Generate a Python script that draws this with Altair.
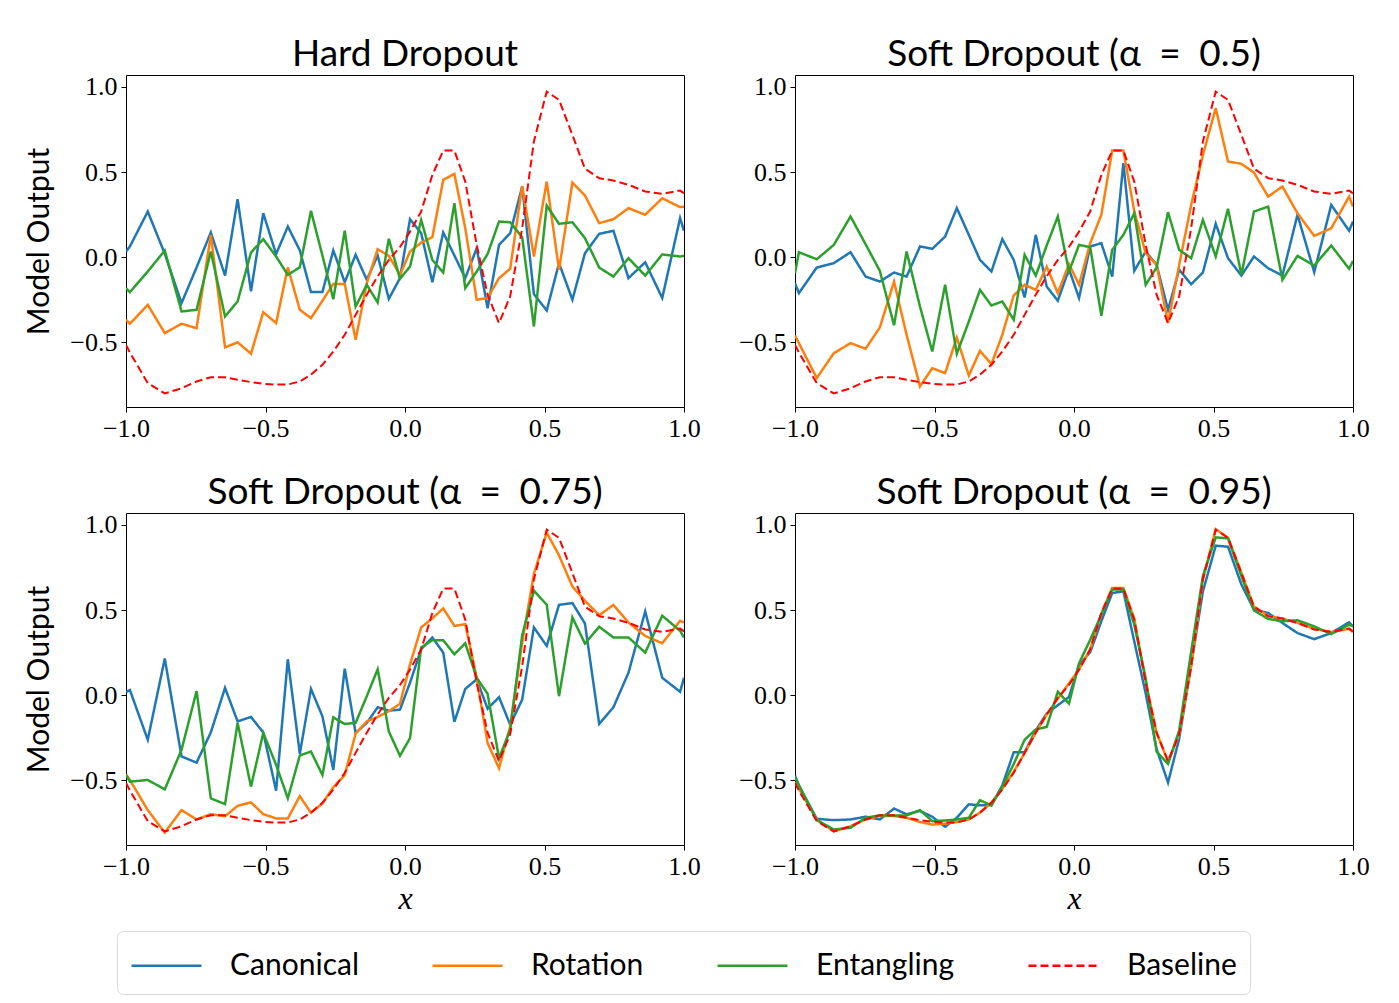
import altair as alt
import pandas as pd

X = [-1.0, -0.986, -0.922, -0.861, -0.801, -0.747, -0.696, -0.645, -0.600, -0.552,
     -0.508, -0.462, -0.420, -0.377, -0.337, -0.296, -0.257, -0.216, -0.177, -0.137,
     -0.098, -0.058, -0.018, 0.018, 0.058, 0.098, 0.137, 0.177, 0.216, 0.257,
     0.296, 0.337, 0.377, 0.420, 0.462, 0.508, 0.552, 0.600, 0.645, 0.696,
     0.747, 0.801, 0.861, 0.922, 0.986, 1.0]

BASELINE = [-0.515, -0.56, -0.74, -0.80, -0.77, -0.73, -0.705, -0.705, -0.72, -0.734,
            -0.744, -0.748, -0.748, -0.73, -0.69, -0.632, -0.554, -0.456, -0.339, -0.22,
            -0.113, -0.016, 0.06, 0.15, 0.268, 0.483, 0.626, 0.626, 0.444, 0.072,
            -0.22, -0.387, -0.23, 0.17, 0.68, 0.973, 0.924, 0.718, 0.52, 0.464,
            0.45, 0.425, 0.386, 0.372, 0.391, 0.375]

HARD_CANONICAL = [0.033, 0.063, 0.268, 0.02, -0.27, -0.06, 0.145, -0.108, 0.34, -0.20,
                  0.258, 0.018, 0.18, 0.04, -0.205, -0.205, 0.04, -0.147, 0.014, -0.133,
                  0.01, -0.245, -0.123, 0.223, 0.141, -0.147, 0.145, 0.01, -0.123, 0.053,
                  -0.30, 0.072, 0.141, 0.415, -0.217, -0.313, -0.035, -0.25, 0.023, 0.137,
                  0.155, -0.123, -0.03, -0.24, 0.229, 0.155]
HARD_ROTATION = [-0.368, -0.391, -0.28, -0.446, -0.391, -0.417, 0.131, -0.53, -0.50, -0.567,
                 -0.323, -0.387, -0.06, -0.309, -0.358, -0.256, -0.157, -0.157, -0.485, -0.153,
                 0.047, 0.008, -0.104, 0.033, 0.086, 0.117, 0.454, 0.489, 0.17, -0.25,
                 -0.24, -0.123, -0.068, 0.419, 0.004, 0.444, -0.074, 0.438, 0.362, 0.20,
                 0.223, 0.288, 0.249, 0.346, 0.294, 0.297]
HARD_ENTANGLING = [-0.182, -0.205, -0.084, 0.039, -0.319, -0.309, 0.033, -0.348, -0.26, 0.027,
                   0.106, 0.004, -0.104, -0.059, 0.272, 0.01, -0.247, 0.155, -0.29, -0.162,
                   -0.266, 0.108, -0.127, -0.055, 0.219, -0.016, -0.09, 0.317, -0.182, -0.084,
                   0.018, 0.209, 0.205, 0.117, -0.407, 0.303, 0.196, 0.205, 0.112, -0.061,
                   -0.114, -0.006, -0.108, 0.016, 0.004, 0.008]

S50_CANONICAL = [-0.153, -0.211, -0.061, -0.035, 0.029, -0.114, -0.143, -0.09, -0.114, 0.063,
                 0.049, 0.121, 0.288, 0.131, -0.016, -0.084, 0.106, -0.016, -0.237, 0.131,
                 -0.172, -0.256, -0.07, -0.24, 0.063, 0.082, -0.114, 0.552, -0.08, 0.033,
                 -0.045, -0.309, -0.074, -0.159, -0.09, 0.196, -0.006, -0.108, 0.004, -0.065,
                 -0.108, 0.249, -0.088, 0.307, 0.155, 0.209]
S50_ROTATION = [-0.46, -0.505, -0.71, -0.564, -0.505, -0.538, -0.413, -0.143, -0.456, -0.759,
                -0.652, -0.681, -0.472, -0.695, -0.55, -0.628, -0.456, -0.225, -0.162, -0.192,
                -0.055, -0.211, -0.04, -0.162, 0.082, 0.249, 0.626, 0.626, 0.27, 0.023,
                -0.045, -0.387, -0.045, 0.307, 0.60, 0.875, 0.562, 0.548, 0.497, 0.356,
                0.415, 0.258, 0.125, 0.17, 0.356, 0.297]
S50_ENTANGLING = [-0.094, 0.029, -0.012, 0.072, 0.239, 0.076, -0.08, -0.40, 0.033, -0.29,
                  -0.554, -0.162, -0.567, -0.378, -0.192, -0.284, -0.26, -0.368, 0.014, -0.108,
                  0.068, 0.239, -0.084, 0.072, 0.059, -0.344, 0.043, 0.131, 0.258, -0.162,
                  -0.061, 0.264, 0.043, -0.006, 0.219, 0.004, 0.284, -0.104, 0.268, 0.297,
                  -0.133, 0.008, -0.049, 0.068, -0.068, -0.022]

S75_CANONICAL = [0.018, 0.03, -0.262, 0.215, -0.36, -0.396, -0.219, 0.043, -0.154, -0.128,
                 -0.219, -0.561, 0.211, -0.344, 0.037, -0.124, -0.439, 0.156, -0.222, -0.163,
                 -0.071, -0.091, -0.085, 0.073, 0.27, 0.339, 0.25, -0.157, 0.037, 0.093,
                 -0.079, -0.012, -0.173, -0.026, 0.398, 0.289, 0.531, 0.541, 0.421, -0.169,
                 -0.071, 0.132, 0.492, 0.102, 0.02, 0.102]
S75_ROTATION = [-0.465, -0.498, -0.675, -0.807, -0.675, -0.73, -0.699, -0.711, -0.65, -0.63,
                -0.699, -0.724, -0.724, -0.593, -0.691, -0.636, -0.541, -0.469, -0.226, -0.154,
                -0.128, -0.094, -0.051, 0.181, 0.398, 0.451, 0.51, 0.407, 0.417, 0.102,
                -0.281, -0.429, -0.183, 0.309, 0.713, 0.955, 0.821, 0.638, 0.555, 0.47,
                0.53, 0.427, 0.348, 0.305, 0.437, 0.427]
S75_ENTANGLING = [-0.469, -0.508, -0.498, -0.553, -0.321, 0.024, -0.606, -0.64, -0.163, -0.537,
                  -0.222, -0.409, -0.606, -0.354, -0.331, -0.469, -0.13, -0.169, -0.163, -0.006,
                  0.152, -0.213, -0.356, -0.252, 0.28, 0.323, 0.323, 0.24, 0.305, 0.102,
                  0.008, -0.37, -0.203, 0.352, 0.614, 0.531, -0.006, 0.457, 0.303, 0.402,
                  0.339, 0.339, 0.25, 0.467, 0.378, 0.339]

S95_CANONICAL = [-0.473, -0.53, -0.726, -0.734, -0.73, -0.714, -0.73, -0.666, -0.70, -0.68,
                 -0.714, -0.773, -0.72, -0.641, -0.647, -0.647, -0.53, -0.335, -0.335, -0.207,
                 -0.108, -0.059, -0.01, 0.178, 0.252, 0.434, 0.60, 0.61, 0.316, 0.01,
                 -0.316, -0.513, -0.256, 0.178, 0.61, 0.878, 0.872, 0.65, 0.503, 0.483,
                 0.424, 0.365, 0.329, 0.365, 0.428, 0.404]
S95_ROTATION = [-0.513, -0.55, -0.73, -0.80, -0.77, -0.73, -0.71, -0.71, -0.72, -0.745,
                -0.76, -0.755, -0.745, -0.73, -0.69, -0.63, -0.55, -0.45, -0.34, -0.22,
                -0.115, -0.02, 0.07, 0.15, 0.27, 0.48, 0.63, 0.63, 0.45, 0.08,
                -0.22, -0.39, -0.23, 0.17, 0.68, 0.975, 0.925, 0.72, 0.52, 0.465,
                0.45, 0.425, 0.39, 0.37, 0.39, 0.37]
S95_ENTANGLING = [-0.483, -0.53, -0.734, -0.789, -0.779, -0.72, -0.706, -0.706, -0.706, -0.675,
                  -0.74, -0.736, -0.73, -0.72, -0.617, -0.647, -0.537, -0.404, -0.262, -0.201,
                  -0.187, 0.02, -0.049, 0.187, 0.325, 0.473, 0.621, 0.621, 0.414, 0.099,
                  -0.331, -0.404, -0.207, 0.256, 0.70, 0.927, 0.921, 0.70, 0.497, 0.448,
                  0.434, 0.44, 0.404, 0.359, 0.414, 0.404]

SP = "\u2002"
TITLES = ["Hard Dropout",
          "Soft Dropout (α" + SP + "=" + SP + "0.5)",
          "Soft Dropout (α" + SP + "=" + SP + "0.75)",
          "Soft Dropout (α" + SP + "=" + SP + "0.95)"]
SERIES = ["Canonical", "Rotation", "Entangling", "Baseline"]
COLORS = ["#1f77b4", "#ff7f0e", "#2ca02c", "#ff0000"]
DASHES = [[1, 0], [1, 0], [1, 0], [8, 4]]
X_TICKS = [-1.0, -0.5, 0.0, 0.5, 1.0]
Y_TICKS = [-0.5, 0.0, 0.5, 1.0]

PANEL_DATA = [
    (HARD_CANONICAL, HARD_ROTATION, HARD_ENTANGLING),
    (S50_CANONICAL, S50_ROTATION, S50_ENTANGLING),
    (S75_CANONICAL, S75_ROTATION, S75_ENTANGLING),
    (S95_CANONICAL, S95_ROTATION, S95_ENTANGLING),
]

SANS = "Lato"
SERIF = "Liberation Serif"

legend = alt.Legend(
    orient="none", legendX=-9, legendY=856, direction="horizontal", columns=4,
    symbolType="M-1,0L2.5,0", symbolSize=1600, symbolStrokeWidth=2.5,
    labelFont=SANS, labelFontSize=30, labelColor="#000", labelOffset=57,
    columnPadding=68, padding=13, strokeColor="#d9d9d9", cornerRadius=6,
    fillColor="white", title=None,
)


def make_panel(idx):
    can, rot, ent = PANEL_DATA[idx]
    rows = []
    for name, vals in zip(SERIES, [can, rot, ent, BASELINE]):
        for xv, yv in zip(X, vals):
            rows.append({"x": xv, "y": yv, "series": name})
    df = pd.DataFrame(rows)
    show_y = idx in (0, 2)
    show_x = idx in (2, 3)
    xaxis = alt.Axis(values=X_TICKS, format=".1f", title="x" if show_x else None,
                     titleFont=SERIF, titleFontStyle="italic", titleFontSize=32,
                     titleFontWeight="normal", titlePadding=4, titleColor="#000",
                     labelFont=SERIF, labelFontSize=26, labelColor="#000", labelPadding=3,
                     labelFlush=False, labelOverlap=False,
                     tickSize=5, tickColor="#000", domain=False, grid=False)
    yaxis = alt.Axis(values=Y_TICKS, format=".1f", title="Model Output" if show_y else None,
                     titleFont=SANS, titleFontSize=30, titleFontWeight="normal",
                     titlePadding=15, titleColor="#000",
                     labelFont=SERIF, labelFontSize=26, labelColor="#000", labelPadding=4,
                     labelFlush=False,
                     tickSize=5, tickColor="#000", domain=False, grid=False)
    base = alt.Chart(df).encode(
        x=alt.X("x:Q", scale=alt.Scale(domain=[-1, 1], nice=False, zero=False), axis=xaxis),
        y=alt.Y("y:Q", scale=alt.Scale(domain=[-0.88, 1.07], nice=False, zero=False), axis=yaxis),
        color=alt.Color("series:N", scale=alt.Scale(domain=SERIES, range=COLORS), legend=legend),
        strokeDash=alt.StrokeDash("series:N", scale=alt.Scale(domain=SERIES, range=DASHES), legend=legend),
    )
    solid = base.transform_filter("datum.series != 'Baseline'").mark_line(strokeWidth=2.5, clip=True)
    dashed = base.transform_filter("datum.series == 'Baseline'").mark_line(strokeWidth=2.0, clip=True)
    return alt.layer(solid, dashed).properties(
        width=558, height=332,
        title=alt.Title(TITLES[idx], font=SANS, fontSize=37, fontWeight="normal",
                        color="#000", offset=0),
    )


top = alt.hconcat(make_panel(0), make_panel(1), spacing=37)
bottom = alt.hconcat(make_panel(2), make_panel(3), spacing=37)
chart = alt.vconcat(top, bottom, spacing=31).resolve_scale(
    color="shared", strokeDash="shared"
).properties(
    padding={"left": 16, "top": 27, "right": 5, "bottom": 5}
).configure_view(stroke="#000", strokeWidth=1)

chart.save("out.html", embed_options={"renderer": "svg", "actions": False})
